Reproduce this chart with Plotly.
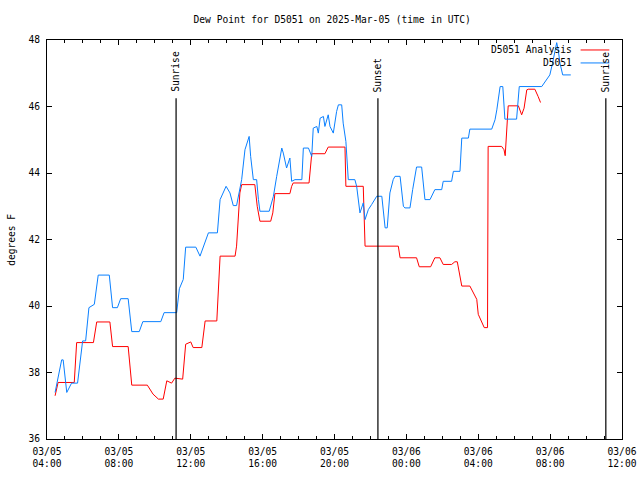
import plotly.graph_objects as go

# ---------------- data ----------------
analysis_times = [
    "2025-03-05 04:27", "2025-03-05 04:37", "2025-03-05 05:31", "2025-03-05 05:39",
    "2025-03-05 06:35", "2025-03-05 06:46", "2025-03-05 07:30", "2025-03-05 07:39",
    "2025-03-05 08:31", "2025-03-05 08:43", "2025-03-05 09:35", "2025-03-05 09:44",
    "2025-03-05 09:54", "2025-03-05 10:12", "2025-03-05 10:28", "2025-03-05 10:40",
    "2025-03-05 10:56", "2025-03-05 11:07", "2025-03-05 11:33", "2025-03-05 11:43",
    "2025-03-05 12:00", "2025-03-05 12:08", "2025-03-05 12:37", "2025-03-05 12:48",
    "2025-03-05 13:27", "2025-03-05 13:38", "2025-03-05 14:28", "2025-03-05 14:33",
    "2025-03-05 14:39", "2025-03-05 14:44", "2025-03-05 14:50", "2025-03-05 15:34",
    "2025-03-05 15:42", "2025-03-05 15:51", "2025-03-05 16:27", "2025-03-05 16:34",
    "2025-03-05 16:41", "2025-03-05 17:31", "2025-03-05 17:37", "2025-03-05 17:42",
    "2025-03-05 18:35", "2025-03-05 18:40", "2025-03-05 18:44", "2025-03-05 19:28",
    "2025-03-05 19:39", "2025-03-05 20:35", "2025-03-05 20:38", "2025-03-05 21:36",
    "2025-03-05 21:38", "2025-03-05 21:42", "2025-03-05 23:33", "2025-03-05 23:39",
    "2025-03-06 00:34", "2025-03-06 00:43", "2025-03-06 01:21", "2025-03-06 01:35",
    "2025-03-06 01:52", "2025-03-06 02:03", "2025-03-06 02:31", "2025-03-06 02:42",
    "2025-03-06 02:50", "2025-03-06 03:05", "2025-03-06 03:32", "2025-03-06 03:43",
    "2025-03-06 03:55", "2025-03-06 04:00", "2025-03-06 04:11", "2025-03-06 04:20",
    "2025-03-06 04:31", "2025-03-06 04:33", "2025-03-06 05:18", "2025-03-06 05:26",
    "2025-03-06 05:30", "2025-03-06 05:35", "2025-03-06 05:40", "2025-03-06 06:14",
    "2025-03-06 06:25", "2025-03-06 06:33", "2025-03-06 06:42", "2025-03-06 06:47",
    "2025-03-06 07:09", "2025-03-06 07:20", "2025-03-06 07:28",
]
analysis_vals = [
    37.3, 37.7, 37.7, 38.9,
    38.9, 39.52, 39.52, 38.78,
    38.78, 37.62, 37.62, 37.5,
    37.35, 37.2, 37.2, 37.75,
    37.68, 37.83, 37.8, 38.85,
    38.92, 38.75, 38.75, 39.55,
    39.55, 41.5, 41.5, 41.8,
    42.6, 43.4, 43.65, 43.65,
    43.0, 42.55, 42.55, 42.8,
    43.38, 43.38, 43.6, 43.7,
    43.7, 44.35, 44.58, 44.58,
    44.78, 44.78, 43.6, 43.6,
    42.6, 41.8, 41.8, 41.45,
    41.45, 41.18, 41.18, 41.45,
    41.45, 41.25, 41.25, 41.33,
    41.33, 40.6, 40.6, 40.4,
    40.2, 39.75, 39.5, 39.35,
    39.35, 44.8, 44.8, 44.7,
    44.52, 45.3, 46.02, 46.02,
    45.75, 45.95, 46.5, 46.52,
    46.52, 46.3, 46.12,
]

obs_times = [
    "2025-03-05 04:27", "2025-03-05 04:49", "2025-03-05 04:54", "2025-03-05 05:06",
    "2025-03-05 05:22", "2025-03-05 05:42", "2025-03-05 05:59", "2025-03-05 06:09",
    "2025-03-05 06:20", "2025-03-05 06:38", "2025-03-05 06:51", "2025-03-05 07:28",
    "2025-03-05 07:39", "2025-03-05 07:55", "2025-03-05 08:06", "2025-03-05 08:31",
    "2025-03-05 08:43", "2025-03-05 09:08", "2025-03-05 09:20", "2025-03-05 10:20",
    "2025-03-05 10:31", "2025-03-05 11:13", "2025-03-05 11:22", "2025-03-05 11:35",
    "2025-03-05 11:43", "2025-03-05 12:17", "2025-03-05 12:31", "2025-03-05 12:59",
    "2025-03-05 13:29", "2025-03-05 13:38", "2025-03-05 13:58", "2025-03-05 14:11",
    "2025-03-05 14:22", "2025-03-05 14:33", "2025-03-05 14:50", "2025-03-05 15:01",
    "2025-03-05 15:15", "2025-03-05 15:20", "2025-03-05 15:29", "2025-03-05 15:40",
    "2025-03-05 15:46", "2025-03-05 15:51", "2025-03-05 16:22", "2025-03-05 16:36",
    "2025-03-05 16:47", "2025-03-05 17:04", "2025-03-05 17:09", "2025-03-05 17:15",
    "2025-03-05 17:20", "2025-03-05 17:31", "2025-03-05 17:37", "2025-03-05 17:48",
    "2025-03-05 18:11", "2025-03-05 18:16", "2025-03-05 18:33", "2025-03-05 18:44",
    "2025-03-05 18:49", "2025-03-05 19:01", "2025-03-05 19:06", "2025-03-05 19:12",
    "2025-03-05 19:23", "2025-03-05 19:28", "2025-03-05 19:39", "2025-03-05 19:45",
    "2025-03-05 19:56", "2025-03-05 20:07", "2025-03-05 20:13", "2025-03-05 20:24",
    "2025-03-05 20:29", "2025-03-05 20:38", "2025-03-05 20:46", "2025-03-05 21:08",
    "2025-03-05 21:14", "2025-03-05 21:25", "2025-03-05 21:36", "2025-03-05 21:42",
    "2025-03-05 21:53", "2025-03-05 22:04", "2025-03-05 22:21", "2025-03-05 22:38",
    "2025-03-05 22:45", "2025-03-05 22:49", "2025-03-05 22:56", "2025-03-05 23:05",
    "2025-03-05 23:16", "2025-03-05 23:22", "2025-03-05 23:39", "2025-03-05 23:44",
    "2025-03-05 23:50", "2025-03-05 23:55", "2025-03-06 00:12", "2025-03-06 00:21",
    "2025-03-06 00:29", "2025-03-06 00:34", "2025-03-06 00:51", "2025-03-06 00:56",
    "2025-03-06 01:02", "2025-03-06 01:19", "2025-03-06 01:35", "2025-03-06 01:58",
    "2025-03-06 02:03", "2025-03-06 02:31", "2025-03-06 02:37", "2025-03-06 02:59",
    "2025-03-06 03:05", "2025-03-06 03:27", "2025-03-06 03:32", "2025-03-06 04:45",
    "2025-03-06 04:56", "2025-03-06 05:02", "2025-03-06 05:13", "2025-03-06 05:22",
    "2025-03-06 05:26", "2025-03-06 05:29", "2025-03-06 06:08", "2025-03-06 06:17",
    "2025-03-06 07:32", "2025-03-06 07:43", "2025-03-06 07:59", "2025-03-06 08:08",
    "2025-03-06 08:16", "2025-03-06 08:22", "2025-03-06 08:27", "2025-03-06 08:33",
    "2025-03-06 08:42", "2025-03-06 09:09",
]
obs_vals = [
    37.4, 38.38, 38.38, 37.4,
    37.68, 37.68, 38.95, 38.95,
    39.95, 40.05, 40.93, 40.93,
    39.95, 39.95, 40.22, 40.22,
    39.23, 39.23, 39.53, 39.53,
    39.8, 39.8, 40.52, 40.8,
    41.77, 41.77, 41.5, 42.2,
    42.2, 43.2, 43.6, 43.4,
    43.02, 43.02, 43.8, 44.7,
    45.1, 44.5, 43.8, 43.8,
    43.2, 42.85, 42.85, 43.3,
    43.9, 44.75, 44.6, 44.3,
    44.15, 44.45, 43.75, 43.8,
    43.8, 44.75, 44.75, 44.5,
    45.35, 45.4, 45.2, 45.65,
    45.7, 45.4, 45.75, 45.4,
    45.2, 45.85, 46.05, 46.05,
    45.5, 44.95, 43.8, 43.8,
    43.6, 42.8, 43.1, 42.6,
    42.9, 43.05, 43.3, 43.3,
    42.6, 42.35, 42.35, 43.4,
    43.8, 43.9, 43.9, 43.5,
    43.0, 42.95, 42.95, 43.5,
    43.9, 44.18, 44.18, 43.7,
    43.2, 43.2, 43.5, 43.5,
    43.75, 43.75, 44.05, 44.05,
    45.05, 45.05, 45.32, 45.32,
    45.6, 45.9, 46.6, 46.6,
    46.0, 45.62, 45.62, 46.6,
    46.6, 46.75, 46.95, 47.3,
    47.7, 47.92, 47.7, 47.3,
    46.95, 46.95,
]

event_times = ["2025-03-05 11:11", "2025-03-05 22:25", "2025-03-06 11:06"]
event_labels = ["Sunrise", "Sunset", "Sunrise"]
event_line_top = 46.25

tick_times = ["2025-03-05 04:00", "2025-03-05 08:00", "2025-03-05 12:00",
              "2025-03-05 16:00", "2025-03-05 20:00", "2025-03-06 00:00",
              "2025-03-06 04:00", "2025-03-06 08:00", "2025-03-06 12:00"]
tick_labels = ["03/05<br>04:00", "03/05<br>08:00", "03/05<br>12:00",
               "03/05<br>16:00", "03/05<br>20:00", "03/06<br>00:00",
               "03/06<br>04:00", "03/06<br>08:00", "03/06<br>12:00"]
y_ticks = [36, 38, 40, 42, 44, 46, 48]

series_names = ["D5051 Analysis", "D5051"]
series_colors = ["#ff0000", "#0a80ff"]

FONT = "DejaVu Sans Mono"
FS = 9.6

# ---------------- figure ----------------
fig = go.Figure()
fig.add_trace(go.Scatter(x=analysis_times, y=analysis_vals, mode="lines",
                         line=dict(color=series_colors[0], width=1),
                         name=series_names[0], showlegend=False))
fig.add_trace(go.Scatter(x=obs_times, y=obs_vals, mode="lines",
                         line=dict(color=series_colors[1], width=1),
                         name=series_names[1], showlegend=False))

shapes = []
annotations = []
for t, lab in zip(event_times, event_labels):
    shapes.append(dict(type="line", xref="x", yref="y", x0=t, x1=t,
                       y0=y_ticks[0], y1=event_line_top,
                       line=dict(color="black", width=1.2)))
    annotations.append(dict(x=t, y=event_line_top, xref="x", yref="y",
                            text=lab, textangle=-90, showarrow=False,
                            xanchor="center", yanchor="bottom", yshift=4,
                            font=dict(family=FONT, size=FS, color="black")))

# custom legend (text on left, line sample on right)
leg_y = [0.975, 0.9425]
for name, col, ly in zip(series_names, series_colors, leg_y):
    annotations.append(dict(x=0.917, y=ly, xref="paper", yref="paper",
                            text=name, showarrow=False, xanchor="right",
                            yanchor="middle",
                            font=dict(family=FONT, size=FS, color="black")))
    shapes.append(dict(type="line", xref="paper", yref="paper",
                       x0=0.928, x1=0.978, y0=ly, y1=ly,
                       line=dict(color=col, width=1)))

annotations.append(dict(x=-0.062, y=0.5, xref="paper", yref="paper",
                        text="degrees F", textangle=-90, showarrow=False,
                        xanchor="center", yanchor="middle",
                        font=dict(family=FONT, size=FS, color="black")))

fig.update_layout(
    width=640, height=480,
    margin=dict(l=47, r=18, t=40, b=41, autoexpand=False),
    paper_bgcolor="white", plot_bgcolor="white",
    font=dict(family=FONT, size=FS, color="black"),
    title=dict(text="Dew Point for D5051 on 2025-Mar-05 (time in UTC)",
               x=0.496, xref="paper", xanchor="center",
               y=1 - 20 / 480, yref="container", yanchor="middle",
               font=dict(family=FONT, size=FS, color="black")),
    shapes=shapes, annotations=annotations,
    showlegend=False,
)
fig.update_xaxes(
    type="date", automargin=False,
    range=[tick_times[0], tick_times[-1]],
    tickmode="array", tickvals=tick_times, ticktext=tick_labels,
    ticks="inside", ticklen=5, tickcolor="black", ticklabelstandoff=3,
    showline=True, linecolor="black", linewidth=1, mirror="ticks",
    showgrid=False, zeroline=False,
    minor=dict(dtick=3600000, tick0=tick_times[0], ticks="inside",
               ticklen=3, tickcolor="black", showgrid=False),
    tickfont=dict(family=FONT, size=FS, color="black"),
)
fig.update_yaxes(
    automargin=False,
    range=[y_ticks[0], y_ticks[-1]],
    tickmode="array", tickvals=y_ticks,
    ticks="inside", ticklen=5, tickcolor="black", ticklabelstandoff=4,
    showline=True, linecolor="black", linewidth=1, mirror="ticks",
    showgrid=False, zeroline=False,
    tickfont=dict(family=FONT, size=FS, color="black"),
)

fig.write_html("out.html")
